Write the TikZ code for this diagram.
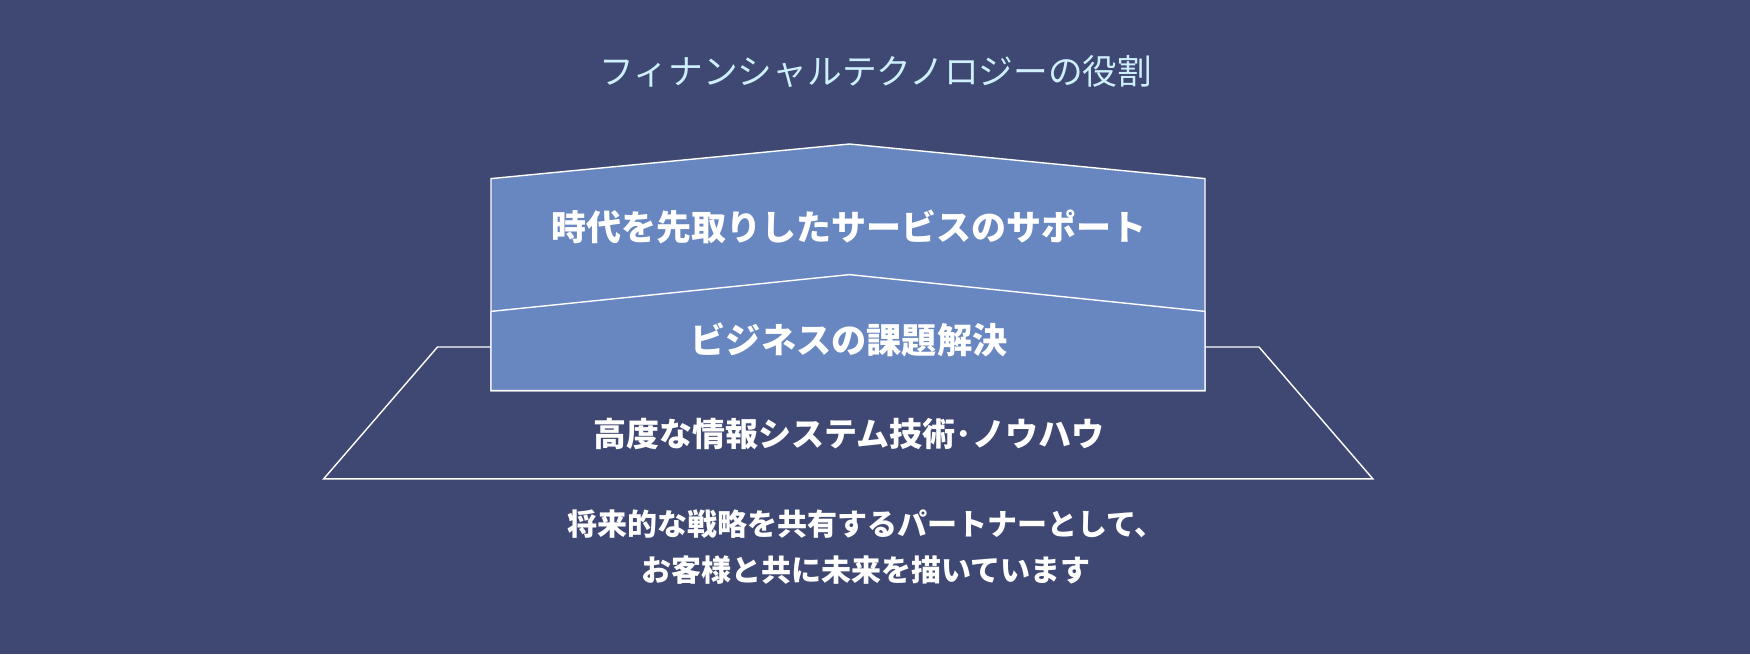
\documentclass[tikz,border=0pt]{standalone}
\usepackage{fontspec}
\newfontfamily\cjk{Noto Sans CJK JP}
\definecolor{bgc}{RGB}{63,72,114}
\definecolor{boxc}{RGB}{104,134,192}
\definecolor{titlec}{RGB}{205,240,252}
\tikzset{
  lbl/.style={text=white, inner sep=0pt, font=\cjk\bfseries\fontsize{#1}{#1}\selectfont},
  shapeline/.style={draw=white, line width=1.4pt},
}
\begin{document}
\begin{tikzpicture}[x=1pt,y=-1pt]
\fill[bgc] (0,0) rectangle (1750,654);
\useasboundingbox (0,0) rectangle (1750,654);
% base trapezoid
\coordinate (tl) at (437.5,347);
\coordinate (tr) at (1259,347);
\coordinate (bl) at (323.7,478.8);
\coordinate (br) at (1372.8,478.8);
\coordinate (jl) at (491,347);
\coordinate (jr) at (1205,347);
\draw[shapeline, line join=miter] (jl) -- (tl) -- (bl) -- (br) -- (tr) -- (jr);
% upper box
\draw[shapeline, fill=boxc, line join=miter] (491,390.6) -- (491,178.6) -- (849.4,144) -- (1205,178.6) -- (1205,390.6) -- cycle;
% lower box
\draw[shapeline, fill=boxc, line join=miter] (491,390.6) -- (491,311.4) -- (849.4,274.6) -- (1205,311.4) -- (1205,390.6) -- cycle;
% texts
\node[text=titlec, inner sep=0pt, font=\cjk\fontsize{34.7}{34.7}\selectfont] (title) at (876,71.4) {フィナンシャルテクノロジーの役割};
\node[lbl=35] (top) at (849,226.6) {時代を先取りしたサービスのサポート};
\node[lbl=35.2] (mid) at (849,340) {ビジネスの課題解決};
\node[lbl=33] (base) at (849,434) {高度な情報システム技術･ノウハウ};
\node[text=white, inner sep=0pt, align=center, font=\cjk\bfseries\fontsize{30}{45.6}\selectfont] (foot) at (866,547) {将来的な戦略を共有するパートナーとして、\\お客様と共に未来を描いています};
\end{tikzpicture}
\end{document}
